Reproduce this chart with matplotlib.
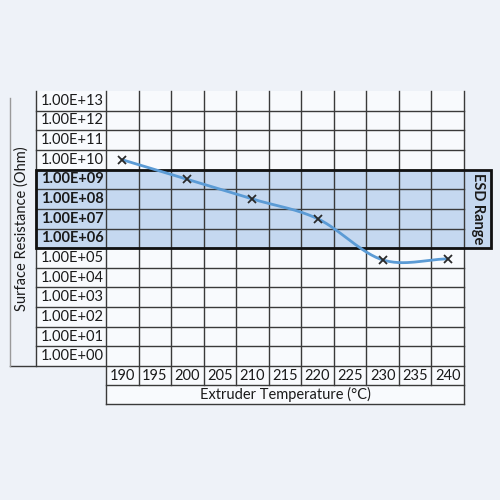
import numpy as np
import matplotlib
matplotlib.use("Agg")
import matplotlib.pyplot as plt
import matplotlib.transforms as mtransforms
from matplotlib.patches import Rectangle

# data
temps = [190, 195, 200, 205, 210, 215, 220, 225, 230, 235, 240]
meas_temps = [190, 200, 210, 220, 230, 240]
resistance = [1.0e10, 1.0e9, 1.0e8, 1.0e7, 8.0e4, 9.0e4]
exponents = list(range(0, 14))
esd_low, esd_high = 1e6, 1e9

plt.rcParams['font.family'] = ['Lato', 'DejaVu Sans']

BG = '#eef2f8'
CELL = '#f8fafd'
GRID = '#3a3a3a'
BLUE = '#c5d8f0'
LINE = '#5b9bd5'
TXT = '#1a1a1a'

fig = plt.figure(figsize=(5, 5), dpi=100, facecolor=BG)

# grid area in pixels: x 106..464, y 91..366
L, R, T, B = 106, 464, 91, 366
aw, ah = R - L, B - T
ax = fig.add_axes([L / 500, 1 - B / 500, aw / 500, ah / 500])
ax.set_xlim(temps[0] - 2.5, temps[-1] + 2.5)
ax.set_yscale('log')
ax.set_ylim(10 ** (exponents[0] - 0.5), 10 ** (exponents[-1] + 0.5))
ax.set_xticks([])
ax.set_yticks([])
ax.minorticks_off()
for s in ax.spines.values():
    s.set_visible(False)
ax.set_facecolor(CELL)

def fx(px):
    # pixel x -> axes fraction
    return (px - L) / aw

def fy(py):
    # pixel y -> axes fraction
    return (B - py) / ah

blend_y = mtransforms.blended_transform_factory(ax.transAxes, ax.transData)
blend_x = mtransforms.blended_transform_factory(ax.transData, ax.transAxes)

# label column / x label rows background
ax.add_patch(Rectangle((fx(36), 0), fx(L) - fx(36), 1, transform=ax.transAxes,
                       facecolor=CELL, edgecolor='none', clip_on=False, zorder=0))
ax.add_patch(Rectangle((0, fy(404)), 1, -fy(404), transform=ax.transAxes,
                       facecolor=CELL, edgecolor='none', clip_on=False, zorder=0))

# ESD band fill
ax.axhspan(esd_low / 10 ** 0.5, esd_high * 10 ** 0.5, xmin=fx(36), xmax=fx(491),
           facecolor=BLUE, edgecolor='none', clip_on=False, zorder=0.5)

# horizontal lines
for e in exponents[:-1]:
    ax.axhline(10 ** (e + 0.5), xmin=fx(36), xmax=1, color=GRID, lw=1, clip_on=False, zorder=1)
ax.axhline(10 ** (exponents[0] - 0.5), xmin=fx(10), xmax=1, color=GRID, lw=1, clip_on=False, zorder=1)
ax.plot([0, 1], [fy(385)] * 2, transform=ax.transAxes, color=GRID, lw=1, clip_on=False)
ax.plot([0, 1], [fy(404)] * 2, transform=ax.transAxes, color=GRID, lw=1, clip_on=False)

# vertical lines
for t in temps[:-1]:
    ax.axvline(t + 2.5, ymin=fy(385), ymax=1, color=GRID, lw=1, clip_on=False, zorder=1)
ax.axvline(temps[0] - 2.5, ymin=fy(404), ymax=1, color=GRID, lw=1, clip_on=False, zorder=1)
ax.axvline(temps[-1] + 2.5, ymin=fy(404), ymax=1, color=GRID, lw=1, clip_on=False, zorder=1)
ax.plot([fx(36)] * 2, [0, 1], transform=ax.transAxes, color=GRID, lw=1, clip_on=False)
ax.plot([fx(10)] * 2, [0, fy(98)], transform=ax.transAxes, color='#9a9a9a', lw=1, clip_on=False)

# ESD box outline
ax.add_patch(Rectangle((fx(36), esd_low / 10 ** 0.5), fx(491) - fx(36),
                       esd_high * 10 ** 0.5 - esd_low / 10 ** 0.5,
                       transform=blend_y, facecolor='none', edgecolor='#111111',
                       lw=2, clip_on=False, zorder=4))

# row labels
for e in exponents:
    bold = esd_low <= 10 ** e <= esd_high
    ax.text(fx(41), 10 ** e, '1.00E+%02d' % e, transform=blend_y, ha='left', va='center',
            fontsize=10.5, fontweight='bold' if bold else 'normal', color=TXT)

# column labels
for t in temps:
    ax.text(t, fy(375.5), str(t), transform=blend_x, ha='center', va='center',
            fontsize=10.5, color=TXT)

ax.text(0.5, fy(394.5), 'Extruder Temperature (°C)', transform=ax.transAxes,
        ha='center', va='center', fontsize=10.5, color=TXT)
ax.text(fx(22), fy(229), 'Surface Resistance (Ohm)', transform=ax.transAxes,
        ha='center', va='center', rotation=90, fontsize=10.5, color=TXT)
ax.text(fx(478), 10 ** 7.5, 'ESD Range', transform=blend_y, ha='center', va='center',
        rotation=270, fontsize=10.5, fontweight='bold', color=TXT)

# smoothed curve (catmull-rom in log space, like Excel smoothing)
xs = np.array(meas_temps, dtype=float)
ys = np.log10(resistance)
px = np.concatenate([[2 * xs[0] - xs[1]], xs, [2 * xs[-1] - xs[-2]]])
py = np.concatenate([[2 * ys[0] - ys[1]], ys, [2 * ys[-1] - ys[-2]]])
cx, cy = [], []
tt = np.linspace(0, 1, 30)
for i in range(1, len(px) - 2):
    p0, p1, p2, p3 = [np.array([px[j], py[j]]) for j in range(i - 1, i + 3)]
    for t in tt:
        pt = 0.5 * ((2 * p1) + (-p0 + p2) * t + (2 * p0 - 5 * p1 + 4 * p2 - p3) * t ** 2
                    + (-p0 + 3 * p1 - 3 * p2 + p3) * t ** 3)
        cx.append(pt[0])
        cy.append(pt[1])
ax.plot(cx, 10 ** np.array(cy), color=LINE, lw=2, zorder=5)
ax.plot(meas_temps, resistance, ls='none', marker='x', ms=6, mew=1.3, color='#2a2a2a', zorder=6)

fig.savefig('out.png', dpi=100, facecolor=BG)
